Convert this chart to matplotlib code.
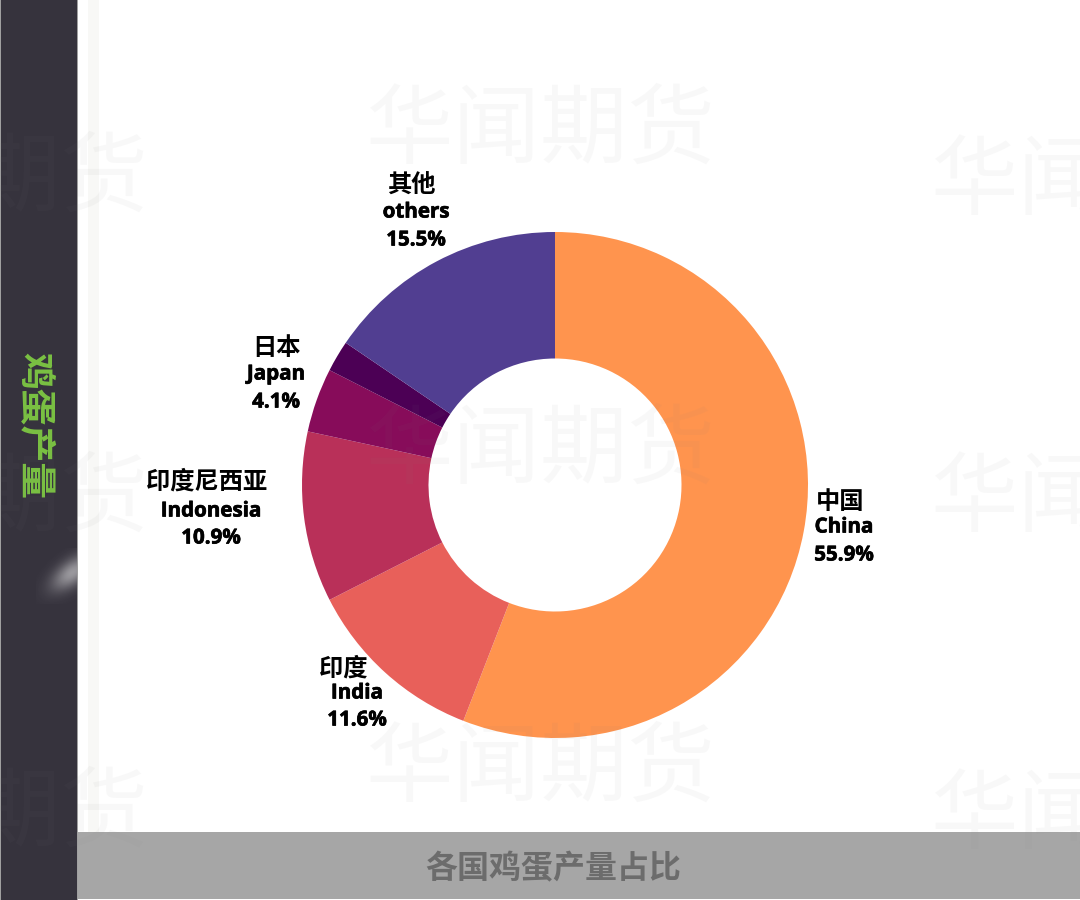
import matplotlib
matplotlib.use("Agg")
import matplotlib.pyplot as plt
import matplotlib.patheffects as pe
import numpy as np
from matplotlib.patches import Rectangle

plt.rcParams['font.family'] = ['Open Sans', 'Noto Sans CJK SC', 'DejaVu Sans']

names_cn = ['中国', '印度', '印度尼西亚', '日本', '', '其他']
names_en = ['China', 'India', 'Indonesia', 'Japan', '', 'others']
shares = [55.9, 11.6, 10.9, 4.1, 2.0, 15.5]
colors = ['#ff944e', '#e8605a', '#b93059', '#870c5a', '#4c0055', '#513e91']

# pixel positions of the label lines (x cn, y cn, x en, y en, x pct, y pct)
label_pos = [
    (840, 502, 844, 527, 844, 555),
    (343, 669, 357, 693, 357, 720),
    (207, 482, 211, 511, 211, 538),
    (276, 348, 276, 374, 276, 402),
    None,
    (411, 186, 416, 212, 416, 240),
]

fig = plt.figure(figsize=(10.8, 9), dpi=100, facecolor='white')

# background layer, coordinates in pixels
bg = fig.add_axes([0, 0, 1, 1], zorder=0)
bg.set_xlim(0, 1080)
bg.set_ylim(900, 0)
bg.axis('off')
bg.add_patch(Rectangle((88, 0), 11, 832, color='#f8f8f6', lw=0))
bg.add_patch(Rectangle((78, 832), 1002, 67, color='#a6a6a6', lw=0))
bg.add_patch(Rectangle((0, 0), 78, 900, color='#a0a0a0', lw=0))
bg.add_patch(Rectangle((1, 0), 76, 900, color='#36333d', lw=0))

# smudge on the sidebar
yy, xx = np.mgrid[548:604, 36:77]
glow = np.exp(-((xx - 72) / 20.0) ** 2 - ((yy - 572 + (xx - 72) * 0.5) / 14.0) ** 2)
rgba = np.ones(glow.shape + (4,))
rgba[..., 3] = glow * 0.5
bg.imshow(rgba, extent=(36, 77, 604, 548), aspect='auto', zorder=2, interpolation='bilinear')
bg.set_xlim(0, 1080)
bg.set_ylim(900, 0)

bg.text(34, 425, '鸡蛋产量', rotation=-90, ha='center', va='center', color='#7ac143',
        fontsize=26.5, fontweight='black', family=['Noto Sans CJK SC'])
bg.text(553, 869, '各国鸡蛋产量占比', ha='center', va='center', color='#6c6c6c',
        fontsize=23, fontweight='bold', family=['Noto Sans CJK SC'])

# donut
size = 520
ax = fig.add_axes([(555 - size / 2) / 1080, 1 - (485 + size / 2) / 900, size / 1080, size / 900], zorder=1)
ax.pie(shares, colors=colors, startangle=90, counterclock=False, radius=1,
       wedgeprops={'width': 0.5, 'linewidth': 0})
ax.set_xlim(-size / 506, size / 506)
ax.set_ylim(-size / 506, size / 506)
ax.patch.set_alpha(0)

# labels and watermark on top
top = fig.add_axes([0, 0, 1, 1], zorder=2)
top.set_xlim(0, 1080)
top.set_ylim(900, 0)
top.axis('off')
top.patch.set_alpha(0)

heavier = [pe.withStroke(linewidth=0.5, foreground='black')]
for cn, en, pct, pos in zip(names_cn, names_en, shares, label_pos):
    if pos is None:
        continue
    x1, y1, x2, y2, x3, y3 = pos
    top.text(x1, y1, cn, ha='center', va='center', fontsize=17.5, color='black',
             family=['Noto Sans CJK SC'], fontweight='bold')
    top.text(x2, y2, en, ha='center', va='center', fontsize=14.8, color='black',
             fontweight='bold', path_effects=heavier)
    top.text(x3, y3, '%.1f%%' % pct, ha='center', va='center', fontsize=14.8, color='black',
             fontweight='bold', path_effects=heavier)

for cx, ys in [(540, (132, 452, 770)), (1105, (183, 500, 817)), (-27, (180, 500, 815))]:
    for y in ys:
        top.text(cx, y, '华闻期货', ha='center', va='center', fontsize=63, color='#808080',
                 alpha=0.05, family=['Noto Sans CJK SC'], fontweight='light', clip_on=True)

fig.savefig('out.png', dpi=100)
